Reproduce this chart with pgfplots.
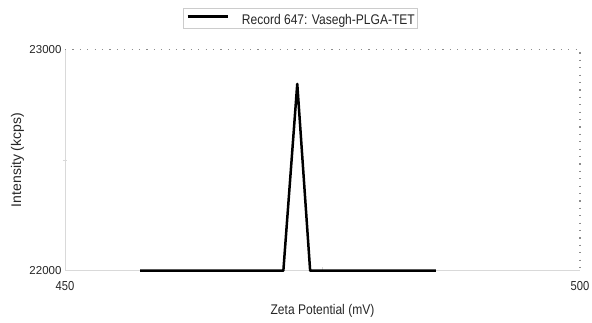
\documentclass[border=0pt]{standalone}
\usepackage{fontspec}
\setmainfont{Liberation Sans}[FakeStretch=0.86]
\newfontfamily\plainsans{Liberation Sans}
\usepackage{pgfplots}
\pgfplotsset{compat=1.18}
\definecolor{txt}{HTML}{262626}
\definecolor{lgray}{HTML}{D9D9D9}
\definecolor{dgray}{HTML}{8C8C8C}
\definecolor{lbox}{HTML}{CCCCCC}
\begin{document}
\begin{tikzpicture}
\begin{axis}[
  scale only axis, width=515pt, height=221.4pt,
  xmin=450, xmax=500, ymin=22000, ymax=23000,
  clip=false,
  axis line style={draw=none},
  xtick={450,500}, ytick={22000,23000},
  minor xtick={475}, minor ytick={22500},
  xtick pos=left, ytick pos=left,
  major tick length=0pt, minor tick length=4pt,
  tick style={lgray, line width=0.8pt},
  xtick align=inside, ytick align=center,
  scaled ticks=false,
  /pgf/number format/assume math mode=true,
  /pgf/number format/1000 sep={},
  xticklabel style={font=\fontsize{13}{13}\selectfont, text=txt, yshift=-7pt},
  yticklabel style={font=\plainsans\fontsize{11.5}{11.5}\selectfont, text=txt},
  xlabel={Zeta Potential (mV)},
  ylabel={Intensity (kcps)},
  xlabel style={at={(axis description cs:0.5,0)}, anchor=base, yshift=-43.3pt,
    font=\fontsize{14}{14}\selectfont, text=txt},
  ylabel style={at={(axis description cs:-0.0922,0.5)}, anchor=center,
    font=\plainsans\fontsize{14}{14}\selectfont, text=txt},
  legend style={at={(axis description cs:0.2297,1)}, anchor=south west, yshift=21pt,
    draw=lbox, line width=0.6pt, fill=white, inner xsep=2.7pt, inner ysep=0.5pt,
    nodes={inner xsep=0pt, inner ysep=0.5pt, text height=15.7pt, text depth=2.3pt,
      text=txt, font=\fontsize{14}{14}\selectfont}},
  legend image code/.code={\draw[black, line width=2.8pt] (0pt,1.5pt) -- (40pt,1.5pt); \path (53pt,0pt);},
]
\coordinate (o) at (rel axis cs:0,0);
\draw[lgray, line width=0.8pt] (rel axis cs:0,1) -- (rel axis cs:0,0) -- (rel axis cs:1,0);
\draw[dgray, line width=1.4pt, dash pattern=on 1.2pt off 6.2pt] (rel axis cs:0,1) -- (rel axis cs:1,1) -- (rel axis cs:1,0);
\addplot[black, line width=2.5pt, line join=round] coordinates {
  (457.3,22000) (471.2,22000) (472.55,22844) (473.8,22000) (486.0,22000)
};
\addlegendentry{Record 647: Vasegh-PLGA-TET}
\end{axis}
\pgfresetboundingbox
\path (o) ++(-65pt,-51.3pt) rectangle ++(592pt,322pt);
\end{tikzpicture}
\end{document}
